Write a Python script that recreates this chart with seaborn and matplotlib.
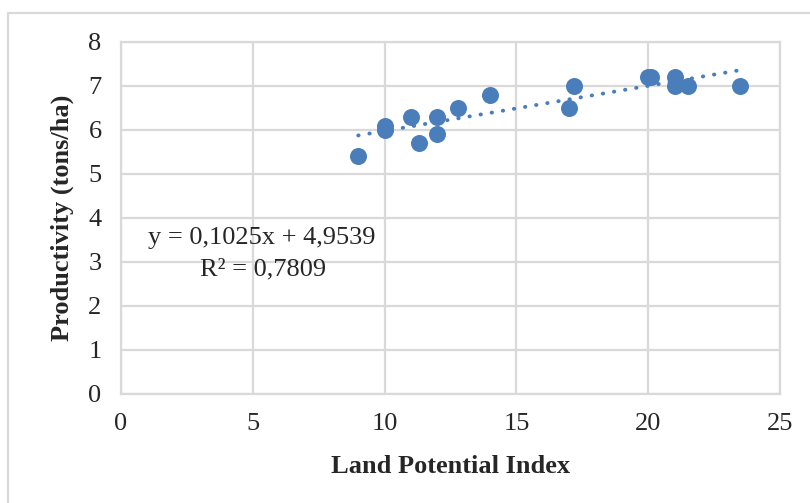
import matplotlib
matplotlib.use("Agg")
import matplotlib.pyplot as plt
import numpy as np
import pandas as pd
import seaborn as sns
from matplotlib.patches import Rectangle

# data
land_index = [9, 10, 10, 11, 11.3, 12, 12, 12.8, 14, 17, 17.2, 20, 20.1, 21, 21, 21.5, 23.5]
productivity = [5.4, 6.1, 6.0, 6.3, 5.7, 6.3, 5.9, 6.5, 6.8, 6.5, 7.0, 7.2, 7.2, 7.2, 7.0, 7.0, 7.0]
slope = 0.1025
intercept = 4.9539
r2_text = "R² = 0,7809"
eq_text = "y = 0,1025x + 4,9539"
x_ticks = [0, 5, 10, 15, 20, 25]
y_ticks = [0, 1, 2, 3, 4, 5, 6, 7, 8]

data = pd.DataFrame({"Land Potential Index": land_index, "Productivity": productivity})
trend_x = np.array([min(land_index), max(land_index)])
trend = pd.DataFrame({"x": trend_x, "y": slope * trend_x + intercept})

sns.set_style("whitegrid")
plt.rcParams['font.family'] = ['Liberation Serif', 'DejaVu Serif']

fig = plt.figure(figsize=(8.1, 5.03), dpi=100)
ax = fig.add_axes([121/810, 1 - 394/503, (780 - 121)/810, (394 - 42)/503])

blue = "#4a7ebb"
sns.lineplot(ax=ax, data=trend, x="x", y="y", color=blue, linewidth=2.8,
             linestyle=(0, (0.1, 2.8)), dash_capstyle="round")
sns.scatterplot(ax=ax, data=data, x="Land Potential Index", y="Productivity",
                color=blue, s=150, edgecolor=blue, linewidth=0, zorder=3)

ax.set_xlim(0, 25)
ax.set_ylim(0, 8)
ax.set_xticks(x_ticks)
ax.set_yticks(y_ticks)
ax.tick_params(axis='both', length=0, labelsize=19, pad=14)
ax.grid(color="#d9d9d9", linewidth=1.6)
for s in ax.spines.values():
    s.set_visible(True)
    s.set_color("#d9d9d9")
    s.set_linewidth(1.6)

ax.set_xlabel("Land Potential Index", fontsize=19, fontweight="bold", labelpad=14)
ax.set_ylabel("Productivity (tons/ha)", fontsize=19, fontweight="bold", labelpad=10)

ax.text(1.02, 3.55, eq_text, fontsize=19, ha="left", va="center")
ax.text(3.0, 2.82, r2_text, fontsize=19, ha="left", va="center")

# outer chart border
fig.patches.append(Rectangle((8/810, -0.5), 2, 0.5 + 1 - 13/503, transform=fig.transFigure,
                             fill=False, edgecolor="#d9d9d9", linewidth=1.6))

fig.savefig("out.png", dpi=100)
